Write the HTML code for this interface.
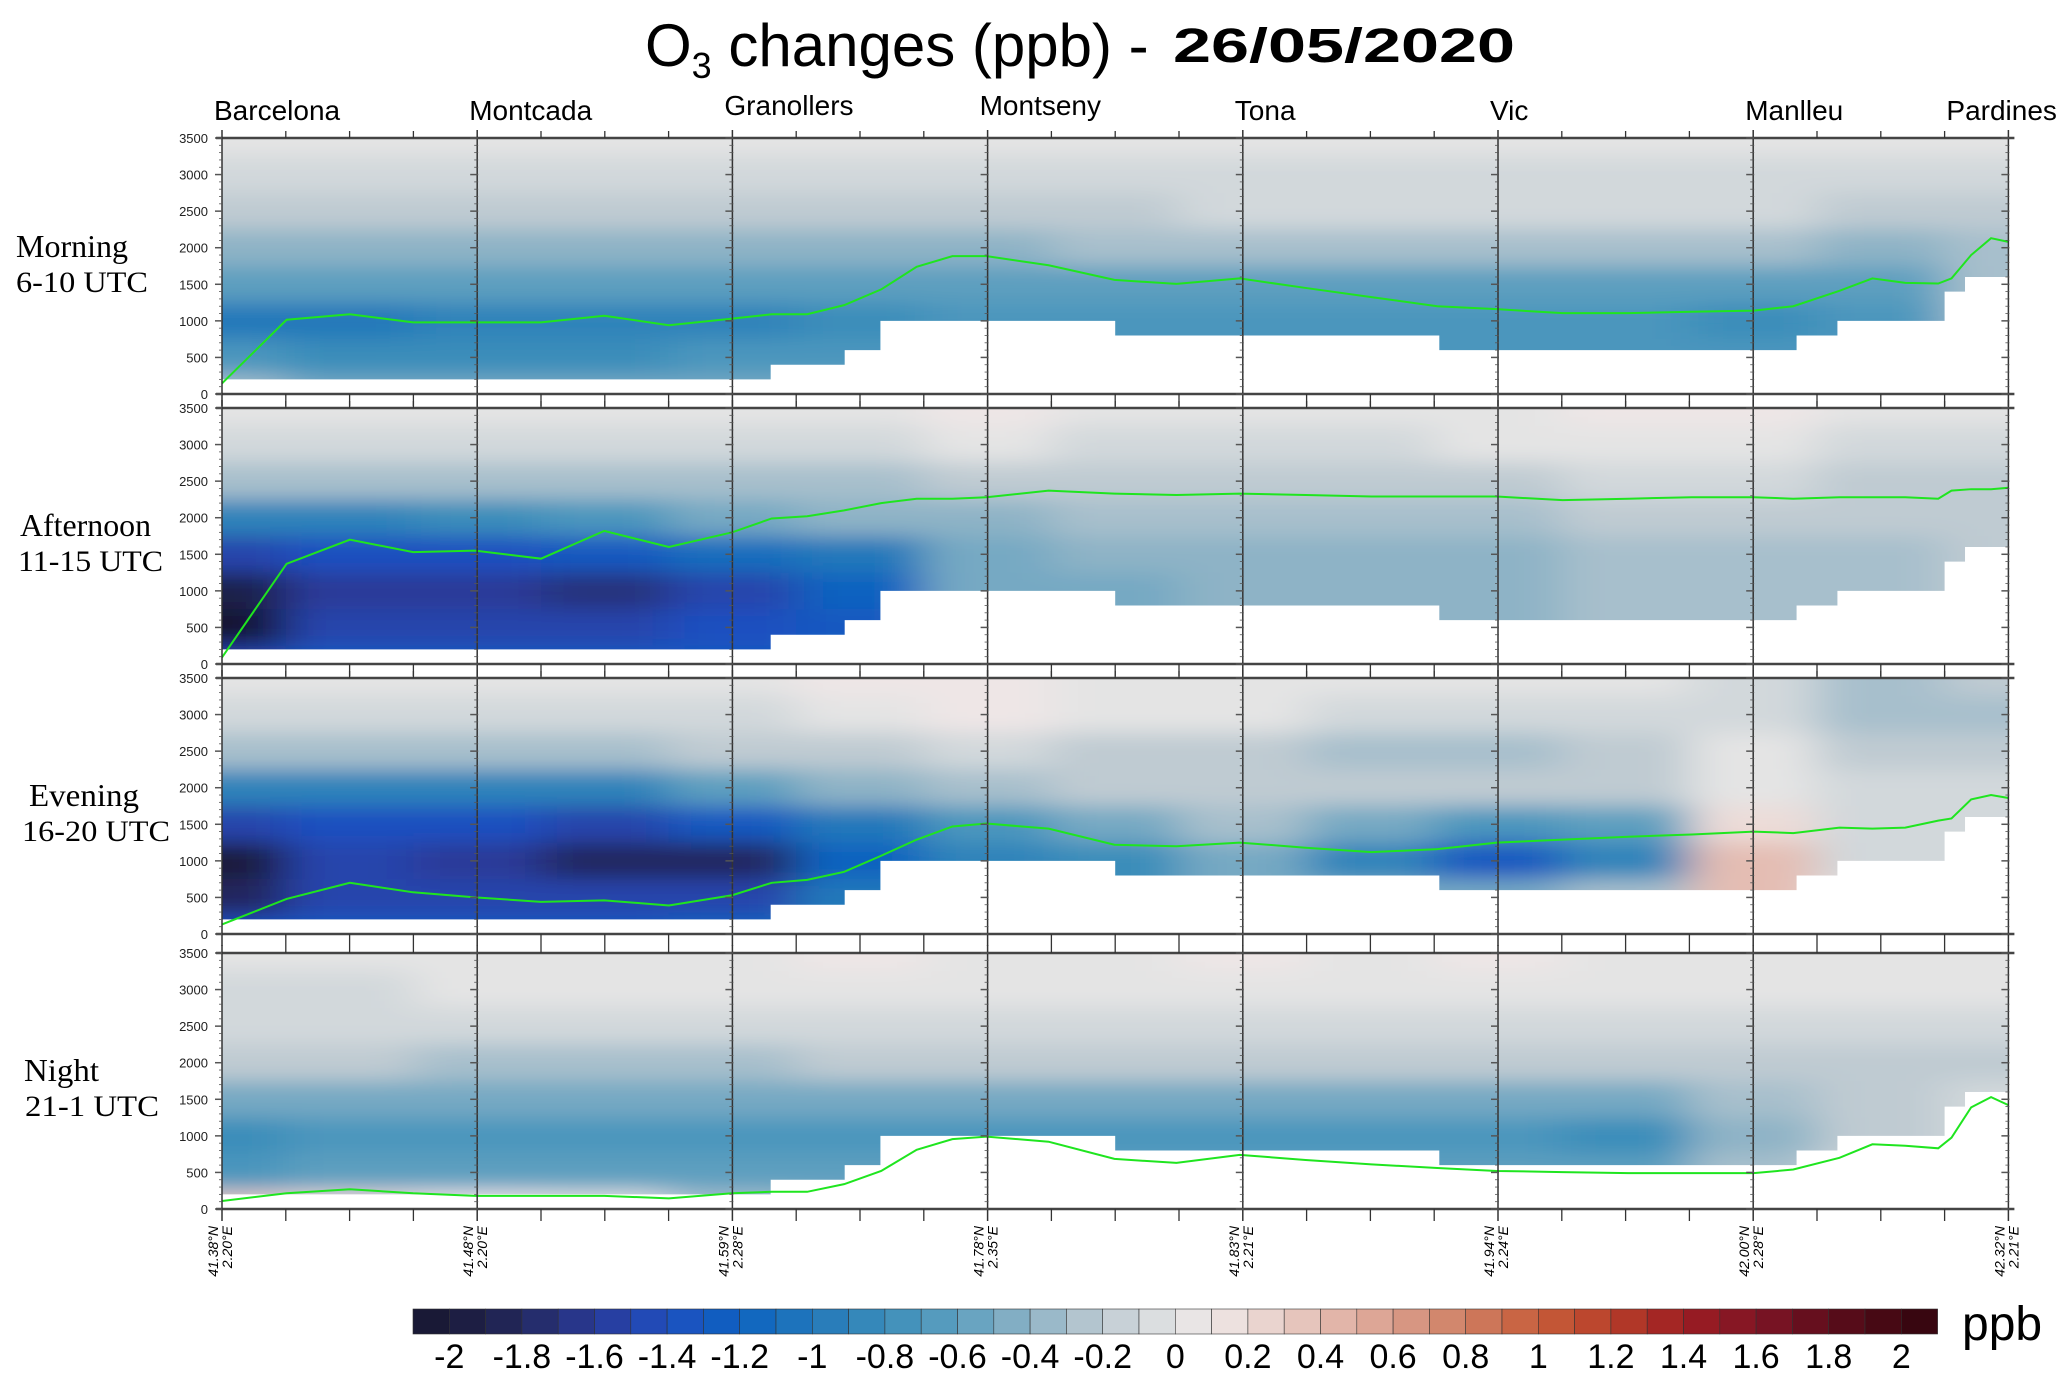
<!DOCTYPE html>
<html><head><meta charset="utf-8">
<style>
html,body{margin:0;padding:0;background:#fff;}
svg{display:block;}
text{font-family:"Liberation Sans",sans-serif;}
.serif{font-family:"Liberation Serif",serif;}
</style></head>
<body>
<svg id="chart" width="2067" height="1388" viewBox="0 0 2067 1388" xmlns="http://www.w3.org/2000/svg">
<defs>
<filter id="blur" x="-5%" y="-10%" width="110%" height="120%"><feGaussianBlur stdDeviation="24 10" edgeMode="duplicate"/></filter>
</defs>
<g>
<text x="645" y="66" font-size="60">O<tspan font-size="36" dy="12">3</tspan><tspan dy="-12"> changes (ppb) -</tspan></text>
<text x="1173" y="62" font-size="48" font-weight="bold" font-family="DejaVu Sans, sans-serif" textLength="342" lengthAdjust="spacingAndGlyphs">26/05/2020</text>
</g>
<g id="panels"></g>
<g id="overlay"></g>
<g id="colorbar"></g>
</svg>
<script>
// ---- data ----
var stations = ["Barcelona","Montcada","Granollers","Montseny","Tona","Vic","Manlleu","Pardines"];
var stationLat = ["41.38°N","41.48°N","41.59°N","41.78°N","41.83°N","41.94°N","42.00°N","42.32°N"];
var stationLon = ["2.20°E","2.20°E","2.28°E","2.35°E","2.21°E","2.24°E","2.28°E","2.21°E"];
var panelNames = ["Morning","Afternoon","Evening","Night"];
var panelTimes = ["6-10  UTC","11-15  UTC","16-20  UTC","21-1  UTC"];
var yTicks = [0,500,1000,1500,2000,2500,3000,3500];
// distance along transect (in station-segment units)
var pblDist = [0,0.253,0.501,0.749,0.992,1.25,1.498,1.751,1.999,2.154,2.293,2.438,2.583,2.722,2.862,2.996,3.239,3.497,3.74,3.988,4.246,4.504,4.762,4.995,5.253,5.511,5.759,6.002,6.157,6.338,6.467,6.596,6.725,6.777,6.854,6.932,7.0];
var pblMorning = [145,1015,1090,980,980,980,1070,940,1030,1090,1090,1215,1430,1740,1885,1885,1760,1560,1505,1580,1450,1325,1200,1160,1105,1105,1125,1140,1200,1410,1580,1520,1510,1580,1900,2130,2080];
var pblAfternoon = [90,1370,1700,1530,1550,1440,1820,1600,1800,1990,2020,2100,2200,2260,2260,2280,2370,2330,2310,2330,2310,2290,2290,2290,2240,2260,2280,2280,2260,2280,2280,2280,2260,2370,2390,2390,2410];
var pblEvening = [130,480,700,570,500,440,460,390,530,700,740,850,1070,1290,1470,1510,1440,1220,1200,1250,1180,1120,1160,1250,1290,1330,1360,1400,1380,1455,1440,1455,1550,1580,1840,1900,1860];
var pblNight = [110,215,270,215,180,180,180,145,215,235,235,340,520,810,955,990,920,685,630,740,670,610,560,520,505,490,490,490,540,700,885,865,830,975,1390,1530,1420];
var terrainDist = [0,2.15,2.44,2.58,3.5,4.77,6.17,6.33,6.75,6.83,7.0];
var terrainH = [200,400,600,1000,800,600,800,1000,1400,1600,1600];
// O3 change field x10 ppb; rows 3500 -> 0 m every 500 m; columns every half segment
var fieldMorning = [
[0,0,0,0,0,0,0,0,0,0,0,0,0,0,0],
[-1,-1,-1,-1,-1,-1,-1,-1,-1,-1,-1,-1,-1,-1,-1],
[-2,-2,-2,-2,-2,-2,-2,-2,-1,-1,-1,-1,-1,-2,-2],
[-4,-4,-4,-4,-4,-4,-4,-3,-3,-3,-3,-3,-3,-4,-3],
[-6,-6,-6,-6,-6,-6,-6,-6,-6,-6,-6,-6,-6,-6,-3],
[-10,-10,-9,-9,-9,-8,-7,-7,-7,-7,-7,-7,-8,-7,-3],
[-7,-8,-8,-8,-7,-7,-7,-7,-7,-7,-7,-7,-7,-7,-3],
[-3,-5,-5,-5,-5,-5,-5,-5,-5,-5,-5,-5,-5,-5,-3]];
var fieldAfternoon = [
[0,0,0,0,0,0,1,0,0,0,0,1,1,0,0],
[-1,-1,-1,-1,-1,-1,0,-1,-1,-1,0,0,0,-1,-1],
[-3,-3,-3,-3,-3,-3,-2,-2,-2,-2,-2,-1,-1,-2,-2],
[-9,-9,-8,-7,-5,-4,-4,-3,-3,-3,-3,-2,-2,-2,-2],
[-15,-14,-14,-13,-11,-10,-5,-4,-4,-4,-4,-3,-3,-3,-2],
[-19,-16,-16,-17,-15,-12,-5,-5,-4,-4,-4,-3,-3,-3,-2],
[-21,-15,-15,-15,-14,-13,-5,-5,-4,-4,-4,-3,-3,-3,-2],
[-15,-13,-13,-13,-13,-12,-5,-5,-4,-4,-4,-3,-3,-3,-2]];
var fieldEvening = [
[0,0,0,0,0,1,1,0,0,0,0,0,-1,-3,-2],
[-1,-1,-1,-1,-1,0,1,0,0,-1,-1,-1,-1,-3,-3],
[-3,-3,-3,-3,-2,-2,-1,-2,-2,-3,-3,-2,0,-2,-2],
[-9,-9,-9,-9,-6,-4,-3,-2,-2,-2,-2,-2,0,-1,-1],
[-15,-14,-14,-15,-13,-10,-7,-5,-3,-5,-7,-6,2,-1,-1],
[-20,-15,-16,-18,-18,-12,-9,-8,-5,-9,-13,-9,4,-1,-1],
[-18,-15,-15,-15,-15,-10,-9,-8,-5,-5,-5,-3,4,0,0],
[-14,-13,-13,-13,-12,-9,-9,-8,-5,-4,-3,-2,3,0,0]];
var fieldNight = [
[0,0,0,0,0,1,0,0,1,0,1,0,0,0,0],
[-1,-1,0,0,0,0,0,0,0,0,0,0,0,0,0],
[-1,-1,-1,-1,-1,-1,-1,-1,-1,-1,-1,-1,-1,-1,-1],
[-2,-2,-3,-3,-3,-2,-2,-2,-2,-2,-2,-2,-2,-2,-2],
[-5,-5,-5,-5,-5,-5,-5,-5,-5,-5,-5,-5,-3,-2,-1],
[-8,-7,-7,-7,-7,-7,-7,-7,-7,-7,-7,-8,-4,-2,-1],
[-7,-6,-6,-6,-6,-6,-6,-6,-6,-6,-6,-6,-3,-1,-1],
[3,2,1,0,-3,-4,-4,-4,-4,-4,-4,-4,-2,-1,-1]];
var cbarLabels = ["-2","-1.8","-1.6","-1.4","-1.2","-1","-0.8","-0.6","-0.4","-0.2","0","0.2","0.4","0.6","0.8","1","1.2","1.4","1.6","1.8","2"];

var pbls=[pblMorning,pblAfternoon,pblEvening,pblNight];
var fields=[fieldMorning,fieldAfternoon,fieldEvening,fieldNight];

(function(){
var NS="http://www.w3.org/2000/svg";
var X0=222, SEG=255.2, PH=256, ZMAX=3500;
var panelTops=[138,408,678,953];
function xs(d){return X0+d*SEG;}
function ys(pt,v){return pt+PH-v/ZMAX*PH;}
function mk(tag,attrs,parent){var e=document.createElementNS(NS,tag);for(var k in attrs)e.setAttribute(k,attrs[k]);parent.appendChild(e);return e;}

var stops=[[-2.1,[22,22,50]],[-2.0,[27,27,58]],[-1.8,[35,40,94]],[-1.6,[42,58,152]],[-1.4,[31,79,192]],[-1.2,[12,98,192]],[-1.0,[35,120,186]],[-0.8,[59,141,186]],[-0.6,[93,159,191]],[-0.4,[142,179,198]],[-0.2,[191,203,210]],[0,[228,228,228]],[0.1,[238,230,230]],[0.2,[236,220,216]],[0.4,[228,189,179]],[0.6,[218,158,140]],[0.8,[207,127,99]],[1.0,[199,93,58]],[1.2,[184,64,42]],[1.4,[158,29,34]],[1.6,[128,21,37]],[1.8,[94,13,28]],[2.0,[63,8,18]],[2.1,[50,5,14]]];
function cmap(v){
  if(v<=stops[0][0])return 'rgb('+stops[0][1].join(',')+')';
  for(var i=1;i<stops.length;i++){if(v<=stops[i][0]){var a=stops[i-1],b=stops[i],t=(v-a[0])/(b[0]-a[0]);
    return 'rgb('+[0,1,2].map(function(j){return Math.round(a[1][j]+(b[1][j]-a[1][j])*t);}).join(',')+')';}}
  return 'rgb('+stops[stops.length-1][1].join(',')+')';
}

var panelsG=document.getElementById('panels');
var overlay=document.getElementById('overlay');
var defs=document.querySelector('defs');
var W=7*SEG;

var labY=[120,120,115,115,120,120,120,120];
stations.forEach(function(s,i){
  var t=mk('text',{x:(i==7?xs(7)-62:xs(i)-8),y:labY[i],'font-size':28},overlay);
  t.textContent=s;
  
  
});

var rowLab=[[16,112,16,132],[20,131,18,145],[29,110,22,148],[24,75,25,134]];
var rowOff=[[119,154],[128,163],[128,163],[128,163]];

for(var p=0;p<4;p++){
  var pt=panelTops[p];
  var g=mk('g',{},panelsG);
  
  
  var cp=mk('clipPath',{id:'clip'+p},defs);
  mk('rect',{x:X0,y:pt,width:W,height:PH},cp);
  var cg=mk('g',{'clip-path':'url(#clip'+p+')'},g);
  var fg=mk('g',{filter:'url(#blur)'},cg);
  
  
  var F=fields[p];
  for(var r=0;r<F.length;r++){
    var zc=ZMAX-500*r;
    for(var c=0;c<F[r].length;c++){
      var dc=c*0.5;
      var x1=xs(dc-0.25),x2=xs(dc+0.25);
      var y1=ys(pt,zc+250),y2=ys(pt,zc-250);
      if(c==0)x1-=80; if(c==F[r].length-1)x2+=80;
      if(r==0)y1-=40; if(r==F.length-1)y2+=40;
      var cell=mk('rect',{x:x1,y:y1,width:x2-x1+0.5,height:y2-y1+0.5,fill:cmap(F[r][c]/10)},fg);
      
      
    }
  }
  var pts=[[xs(0),ys(pt,0)]];
  for(var i=0;i<terrainDist.length-1;i++){
    pts.push([xs(terrainDist[i]),ys(pt,terrainH[i])]);
    pts.push([xs(terrainDist[i+1]),ys(pt,terrainH[i])]);
  }
  pts.push([xs(7),ys(pt,0)]);
  var tm=mk('polygon',{points:pts.map(function(q){return q.join(',');}).join(' '),fill:'#fff'},cg);
  
  
  var lp=pbls[p].map(function(v,i){return xs(pblDist[i])+','+ys(pt,v);}).join(' ');
  var pl=mk('polyline',{points:lp,fill:'none',stroke:'#1fe51f','stroke-width':2},g);
  
  
  var ax='#444';
  mk('line',{x1:X0-6,x2:xs(7)+6,y1:pt,y2:pt,stroke:ax,'stroke-width':2.5},g);
  mk('line',{x1:X0-6,x2:xs(7)+6,y1:pt+PH,y2:pt+PH,stroke:ax,'stroke-width':2.5},g);
  for(var s=0;s<8;s++){
    var sx=xs(s);
    var vl=mk('line',{x1:sx,x2:sx,y1:pt-8,y2:pt+PH+12,stroke:'#333','stroke-width':1.5},g);
    
    
    for(var z=0;z<=3500;z+=100){
      var big=(z%500==0);
      mk('line',{x1:sx-(big?7:3),x2:sx+(s==0?0:1),y1:ys(pt,z),y2:ys(pt,z),stroke:'#555','stroke-width':big?1.5:0.8},g);
    }
    if(s<7){for(var q=1;q<4;q++){var tx=xs(s+q*0.25);
      mk('line',{x1:tx,x2:tx,y1:pt-7,y2:pt,stroke:'#333','stroke-width':1.3},g);
      mk('line',{x1:tx,x2:tx,y1:pt+PH,y2:pt+PH+12,stroke:'#333','stroke-width':1.3},g);}}
  }
  yTicks.forEach(function(v){
    var t=mk('text',{x:X0-14,y:ys(pt,v)+5,'font-size':13,'text-anchor':'end',fill:'#222'},g);
    t.textContent=v;
    
    
  });
  var L=rowLab[p], O=rowOff[p];
  var t1=mk('text',{x:L[0],y:pt+O[0],'font-size':32,'class':'serif',textLength:L[1],lengthAdjust:'spacingAndGlyphs'},g);
  t1.textContent=panelNames[p];
  
  
  var t2=mk('text',{x:L[2],y:pt+O[1],'font-size':30,'class':'serif',textLength:L[3],lengthAdjust:'spacingAndGlyphs'},g);
  t2.textContent=panelTimes[p];
  
  
}

for(var s2=0;s2<8;s2++){
  var bx=xs(s2);
  var a=mk('text',{x:0,y:0,'font-size':14,'font-style':'italic','text-anchor':'end',transform:'translate('+(bx-4)+',1226) rotate(-90)'},overlay);
  a.textContent=stationLat[s2];
  
  
  var b=mk('text',{x:0,y:0,'font-size':14,'font-style':'italic','text-anchor':'end',transform:'translate('+(bx+10)+',1226) rotate(-90)'},overlay);
  b.textContent=stationLon[s2];
  
  
}

var cb=document.getElementById('colorbar');
var CX=413, CW=36.3, CY=1309, CH=25;
for(var i=0;i<42;i++){
  var v=-2.05+0.1*i;
  var rr=mk('rect',{x:CX+i*CW,y:CY,width:CW,height:CH,fill:cmap(v),stroke:'#333','stroke-width':0.6},cb);
  
  
}
cbarLabels.forEach(function(l,k){
  var t=mk('text',{x:CX+(1+2*k)*CW,y:1368,'font-size':34,'text-anchor':'middle'},cb);
  t.textContent=l;
  
  
});
var u=mk('text',{x:1962,y:1340,'font-size':48},cb);
u.textContent='ppb';


})();
</script>
</body></html>
